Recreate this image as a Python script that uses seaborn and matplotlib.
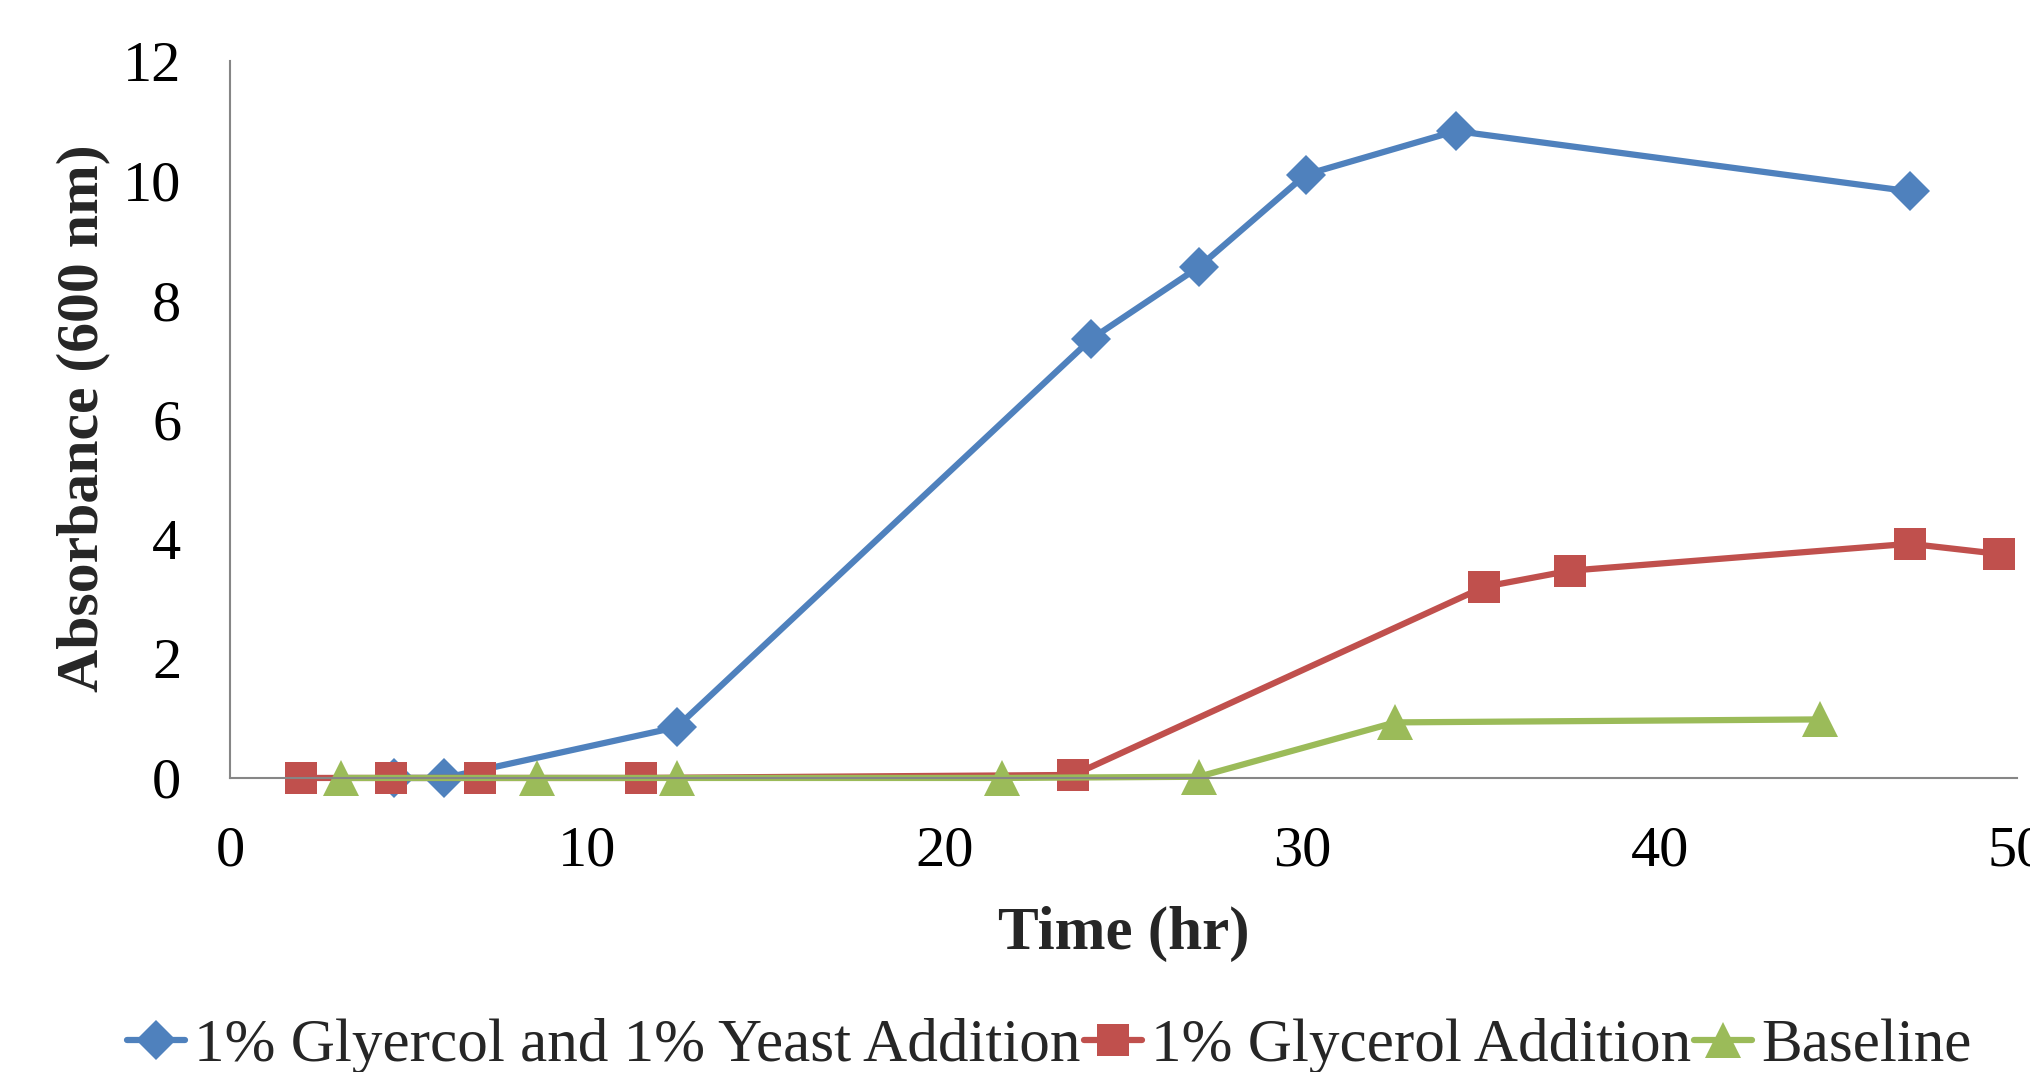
import pandas as pd
import seaborn as sns
import matplotlib.pyplot as plt

# values
yeast_time = [4.6, 6.0, 12.5, 24.1, 27.1, 30.1, 34.3, 47.0]
yeast_abs = [0.0, 0.0, 0.85, 7.35, 8.55, 10.1, 10.83, 9.82]

glycerol_time = [2.0, 4.5, 7.0, 11.5, 23.6, 35.1, 37.5, 47.0, 49.5]
glycerol_abs = [0.0, 0.0, 0.0, 0.0, 0.05, 3.2, 3.47, 3.92, 3.75]

baseline_time = [3.1, 8.6, 12.5, 21.6, 27.1, 32.6, 44.5]
baseline_abs = [0.0, 0.0, 0.0, 0.0, 0.02, 0.93, 0.98]

series_names = ['1% Glyercol and 1% Yeast Addition', '1% Glycerol Addition', 'Baseline']
series_colors = ['#4F81BD', '#C0504D', '#9BBB59']
series_markers = ['D', 's', '^']
marker_sizes = [20, 23, 26]

x_ticks = [0, 10, 20, 30, 40, 50]
y_ticks = [0, 2, 4, 6, 8, 10, 12]

frames = []
for name, t, a in zip(series_names,
                      [yeast_time, glycerol_time, baseline_time],
                      [yeast_abs, glycerol_abs, baseline_abs]):
    frames.append(pd.DataFrame({'time': t, 'absorbance': a, 'series': name}))
df = pd.concat(frames, ignore_index=True)

sns.set_style('white')
plt.rcParams['font.family'] = ['Liberation Serif', 'DejaVu Serif']

fig = plt.figure(figsize=(20.30, 10.72), dpi=100)
ax = fig.add_axes([0.1133, 0.2743, 0.8803, 0.6687])

for name, col, mk, ms in zip(series_names, series_colors, series_markers, marker_sizes):
    sub = df[df['series'] == name]
    sns.lineplot(data=sub, x='time', y='absorbance', ax=ax, color=col,
                 marker=mk, markersize=ms, linewidth=4.5, markeredgewidth=0,
                 sort=False, legend=False, label=name)

ax.set_xlim(0, 50)
ax.set_ylim(0, 12)
ax.set_xticks(x_ticks)
ax.set_yticks(y_ticks)
for ln in ax.lines:
    ln.set_clip_on(False)

grey = '#868686'
for s in ['top', 'right']:
    ax.spines[s].set_visible(False)
for s in ['left', 'bottom']:
    ax.spines[s].set_color(grey)
    ax.spines[s].set_linewidth(1.5)
ax.tick_params(axis='both', direction='out', width=1.5, color=grey,
               labelsize=42, labelcolor='black')
ax.tick_params(axis='x', length=12, pad=22)
ax.tick_params(axis='y', length=13, pad=22)

ax.set_xlabel('Time (hr)', fontsize=44, fontweight='bold')
ax.set_ylabel('Absorbance (600 nm)', fontsize=43, fontweight='bold')
ax.xaxis.set_label_coords(0.5, -0.218)
ax.xaxis.label.set_va('center')
ax.yaxis.set_label_coords(-0.0823, 0.502)
ax.yaxis.label.set_va('center')

fig.legend(handles=ax.lines, labels=series_names, loc='center',
           bbox_to_anchor=(0.517, 0.024), ncol=3, frameon=False, fontsize=44,
           handlelength=0.95, handletextpad=0.15, columnspacing=0.05,
           borderaxespad=0, borderpad=0)

fig.savefig('out.png', dpi=100)
